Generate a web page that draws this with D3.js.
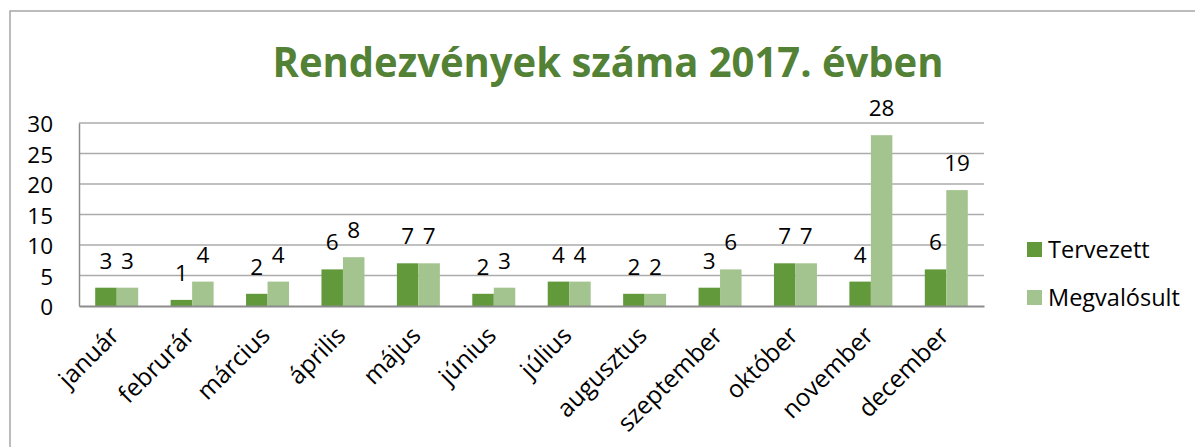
<!DOCTYPE html>
<html>
<head>
<meta charset="utf-8">
<script src="https://cdn.jsdelivr.net/npm/d3@7"></script>
<style>
  html, body { margin: 0; padding: 0; background: #fff; }
  svg { display: block; }
  text { font-family: "Open Sans", Lato, sans-serif; }
</style>
</head>
<body>
<svg id="chart" width="1195" height="447"></svg>
<script>
// Monthly event counts for 2017
const months = ["január", "februrár", "március", "április", "május", "június",
                "július", "augusztus", "szeptember", "október", "november", "december"];
const planned  = [3, 1, 2, 6, 7, 2, 4, 2, 3, 7, 4, 6];   // Tervezett
const realized = [3, 4, 4, 8, 7, 3, 4, 2, 6, 7, 28, 19]; // Megvalósult
const seriesNames = ["Tervezett", "Megvalósult"];
const yTicks = [0, 5, 10, 15, 20, 25, 30];

const colors = ["#61993B", "#A3C48E"];
const labelFont = "'Open Sans', Lato, sans-serif";
const labelSize = 22.5;
const monthSize = 24.5;
const legendSize = 23.5;

const svg = d3.select("#chart");
const plot = { left: 79, right: 984, top: 123, bottom: 306 };

// outer frame (only top and left edges fall inside the view)
svg.append("rect")
  .attr("x", 10).attr("y", 11)
  .attr("width", 1400).attr("height", 1000)
  .attr("fill", "none")
  .attr("stroke", "#A6A6A6")
  .attr("stroke-width", 1.5);

// title
svg.append("text")
  .attr("x", 608).attr("y", 77)
  .attr("text-anchor", "middle")
  .attr("font-family", "Lato, sans-serif")
  .attr("font-size", 42)
  .attr("font-weight", "bold")
  .attr("fill", "#538135")
  .attr("textLength", 671)
  .attr("lengthAdjust", "spacingAndGlyphs")
  .text("Rendezvények száma 2017. évben");

const x = d3.scaleBand()
  .domain(months)
  .range([plot.left, plot.right])
  .paddingInner(0.43)
  .paddingOuter(0.215);

const xSub = d3.scaleBand()
  .domain(seriesNames)
  .range([0, x.bandwidth()]);

const y = d3.scaleLinear()
  .domain([0, 30])
  .range([plot.bottom, plot.top]);

// horizontal gridlines
svg.append("g")
  .selectAll("line")
  .data(yTicks.filter(t => t > 0))
  .join("line")
  .attr("x1", plot.left).attr("x2", plot.right)
  .attr("y1", d => y(d)).attr("y2", d => y(d))
  .attr("stroke", "#ABABAB")
  .attr("stroke-width", 1.5);

// y axis
const yAxis = svg.append("g")
  .attr("transform", `translate(${plot.left},0)`)
  .call(d3.axisLeft(y).tickValues(yTicks).tickSize(0).tickPadding(26));
yAxis.select(".domain").attr("stroke", "#8C8C8C").attr("stroke-width", 1.5);
yAxis.selectAll("text")
  .attr("font-size", labelSize)
  .attr("fill", "#000")
  .attr("dy", "0.38em")
  .attr("font-family", labelFont);

// bars
const data = months.map((m, i) => ({ month: m, values: [planned[i], realized[i]] }));

const groups = svg.append("g")
  .selectAll("g")
  .data(data)
  .join("g")
  .attr("transform", d => `translate(${x(d.month)},0)`);

groups.selectAll("rect")
  .data(d => d.values.map((v, k) => ({ key: seriesNames[k], value: v, k })))
  .join("rect")
  .attr("x", d => xSub(d.key))
  .attr("y", d => y(d.value))
  .attr("width", xSub.bandwidth())
  .attr("height", d => y(0) - y(d.value))
  .attr("fill", d => colors[d.k]);

// value labels
groups.selectAll("text")
  .data(d => d.values.map((v, k) => ({ key: seriesNames[k], value: v })))
  .join("text")
  .attr("x", d => xSub(d.key) + xSub.bandwidth() / 2)
  .attr("y", d => y(d.value) - 19)
  .attr("text-anchor", "middle")
  .attr("font-size", labelSize)
  .attr("fill", "#000")
  .text(d => d.value);

// x axis baseline and rotated month names
const xAxis = svg.append("g")
  .attr("transform", `translate(0,${plot.bottom})`)
  .call(d3.axisBottom(x).tickSize(0).tickPadding(0));
xAxis.select(".domain").attr("stroke", "#8C8C8C").attr("stroke-width", 2);
xAxis.selectAll("text")
  .attr("font-size", monthSize)
  .attr("fill", "#000")
  .attr("font-family", labelFont)
  .attr("text-anchor", "end")
  .attr("dy", null)
  .attr("y", 0)
  .attr("transform", "translate(4,31) rotate(-45)");

// legend
const legend = svg.append("g")
  .selectAll("g")
  .data(seriesNames)
  .join("g")
  .attr("transform", (d, i) => `translate(1027,${242 + i * 48})`);
legend.append("rect")
  .attr("width", 15).attr("height", 15)
  .attr("fill", (d, i) => colors[i]);
legend.append("text")
  .attr("x", 21).attr("y", 16)
  .attr("font-size", legendSize)
  .attr("fill", "#000")
  .text(d => d);
</script>
</body>
</html>
